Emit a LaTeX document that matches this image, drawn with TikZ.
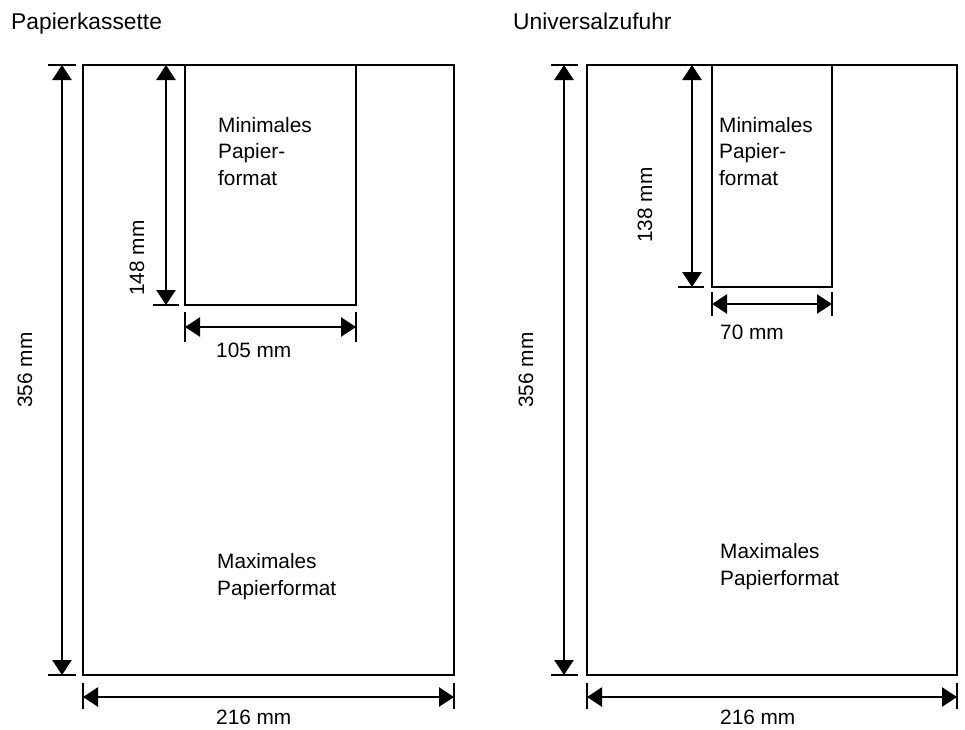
\documentclass[tikz,border=0pt]{standalone}
\usepackage{fontspec}
\setmainfont{Liberation Sans}
\usetikzlibrary{arrows.meta}
\begin{document}
\begin{tikzpicture}[x=1pt,y=-1pt,
  box/.style={line width=2.2pt},
  dimline/.style={line width=2.6pt,{Triangle[length=15pt,width=19pt]}-{Triangle[length=15pt,width=19pt]}},
  dimtick/.style={line width=2.2pt},
  lbl/.style={font=\fontsize{20.8}{26.5}\selectfont,inner sep=0pt,align=left},
  ttl/.style={font=\fontsize{22.8}{26}\selectfont,inner sep=0pt}]
\useasboundingbox (0,0) rectangle (965,729);
% ---------- left panel ----------
\coordinate (LA) at (83,65);
\coordinate (LB) at (454,675);
\draw[box] (LA) rectangle (LB);
\coordinate (la1) at (185,65);
\coordinate (la2) at (185,305);
\coordinate (la3) at (356,305);
\coordinate (la4) at (356,65);
\draw[box] (la1) -- (la2) -- (la3) -- (la4);
% outer vertical
\coordinate (lv1) at (62,65);
\coordinate (lv2) at (62,675);
\draw[dimtick] (48,65) -- (76,65);
\draw[dimtick] (48,675) -- (76,675);
\draw[dimline] (lv1) -- (lv2);
% inner vertical
\coordinate (li1) at (166,65);
\coordinate (li2) at (166,305);
\draw[dimtick] (153,305) -- (179,305);
\draw[dimline] (li1) -- (li2);
% inner horizontal
\coordinate (lh1) at (185,327);
\coordinate (lh2) at (356,327);
\draw[dimtick] (185,312) -- (185,342);
\draw[dimtick] (356,312) -- (356,342);
\draw[dimline] (lh1) -- (lh2);
% outer horizontal
\coordinate (lb1) at (83,697);
\coordinate (lb2) at (454,697);
\draw[dimtick] (83,683) -- (83,709);
\draw[dimtick] (454,683) -- (454,709);
\draw[dimline] (lb1) -- (lb2);
% texts
\node[ttl,anchor=base west] (t1) at (11,29.5) {Papierkassette};
\node[lbl,anchor=base west] (m1) at (218,185) {Minimales\\Papier-\\format};
\node[lbl,anchor=base west] (x1) at (217,595) {Maximales\\Papierformat};
\node[lbl,anchor=base west] (d1) at (216,357) {105 mm};
\node[lbl,anchor=base west] (d2) at (216,724) {216 mm};
\node[lbl,rotate=90] (d3) at (137,258) {148 mm};
\node[lbl,rotate=90] (d4) at (25,370) {356 mm};
% ---------- right panel ----------
\coordinate (RA) at (587,65);
\coordinate (RB) at (957,675);
\draw[box] (RA) rectangle (RB);
\coordinate (ra1) at (712,65);
\coordinate (ra2) at (712,287);
\coordinate (ra3) at (832,287);
\coordinate (ra4) at (832,65);
\draw[box] (ra1) -- (ra2) -- (ra3) -- (ra4);
% outer vertical
\coordinate (rv1) at (564,65);
\coordinate (rv2) at (564,675);
\draw[dimtick] (551,65) -- (578,65);
\draw[dimtick] (551,675) -- (578,675);
\draw[dimline] (rv1) -- (rv2);
% inner vertical
\coordinate (ri1) at (692,65);
\coordinate (ri2) at (692,287);
\draw[dimtick] (678,287) -- (704,287);
\draw[dimline] (ri1) -- (ri2);
% inner horizontal
\coordinate (rh1) at (712,304);
\coordinate (rh2) at (832,304);
\draw[dimtick] (712,292) -- (712,316);
\draw[dimtick] (832,292) -- (832,316);
\draw[dimline] (rh1) -- (rh2);
% outer horizontal
\coordinate (rb1) at (587,697);
\coordinate (rb2) at (957,697);
\draw[dimtick] (587,683) -- (587,709);
\draw[dimtick] (957,683) -- (957,709);
\draw[dimline] (rb1) -- (rb2);
% texts
\node[ttl,anchor=base west] (t2) at (513,29.5) {Universalzufuhr};
\node[lbl,anchor=base west] (m2) at (719,185) {Minimales\\Papier-\\format};
\node[lbl,anchor=base west] (x2) at (720,585) {Maximales\\Papierformat};
\node[lbl,anchor=base west] (e1) at (720,339) {70 mm};
\node[lbl,anchor=base west] (e2) at (720,724) {216 mm};
\node[lbl,rotate=90] (e3) at (645,205) {138 mm};
\node[lbl,rotate=90] (e4) at (526,370) {356 mm};
\end{tikzpicture}
\end{document}
